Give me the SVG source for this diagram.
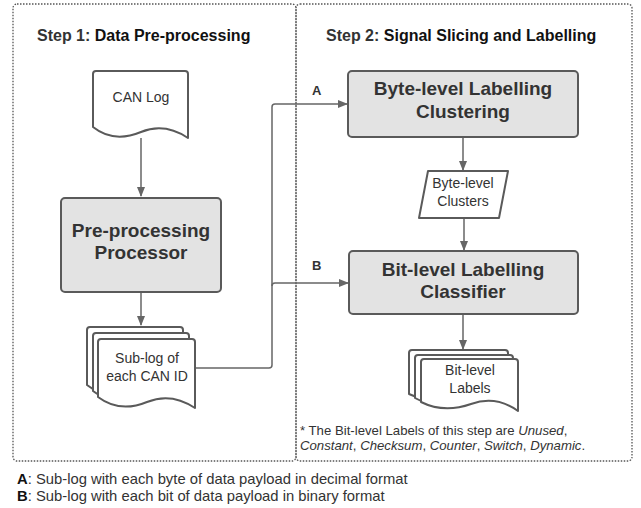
<svg xmlns="http://www.w3.org/2000/svg" width="641" height="508" viewBox="0 0 641 508">
<style>
.frame{fill:none;stroke:#555;stroke-width:1.3;stroke-dasharray:1.5 1.5}
.proc{fill:#e3e3e3;stroke:#5a5a5a;stroke-width:2}
.doc{fill:#fff;stroke:#5a5a5a;stroke-width:2;stroke-linejoin:round}
.ln{fill:none;stroke:#666;stroke-width:1.5}
.t{font-family:"Liberation Sans",Arial,sans-serif;fill:#333}
.big{font-size:19px;font-weight:bold;text-anchor:middle}
.sm{font-size:14px;text-anchor:middle}
.title{font-size:16px;font-weight:bold}
</style>
<defs>
<marker id="ah" markerWidth="10" markerHeight="8" refX="9" refY="4" orient="auto" markerUnits="userSpaceOnUse">
<path d="M0,0 L10,4 L0,8 Z" fill="#666"/>
</marker>
</defs>
<g id="step1-frame"><rect class="frame" x="13" y="4" width="283" height="457" rx="4"/></g>
<g id="step2-frame"><rect class="frame" x="296" y="4" width="336" height="457" rx="4"/></g>
<text class="t title" x="37" y="41" font-size="15.6">Step 1: <tspan fill="#111">Data Pre-processing</tspan></text>
<text class="t title" x="326" y="41" font-size="16.3">Step 2: <tspan fill="#111">Signal Slicing and Labelling</tspan></text>

<g id="connectors">
<path class="ln" d="M141,138 V196" marker-end="url(#ah)"/>
<path class="ln" d="M141,292 V325" marker-end="url(#ah)"/>
<path class="ln" d="M195,368 H269 Q272,368 272,365 V107 Q272,104 275,104 H347" marker-end="url(#ah)"/>
<path class="ln" d="M272,286 Q272,283 275,283 H348" marker-end="url(#ah)"/>
<path class="ln" d="M463,137 V170" marker-end="url(#ah)"/>
<path class="ln" d="M464,218 V250" marker-end="url(#ah)"/>
<path class="ln" d="M463,314 V349" marker-end="url(#ah)"/>
<text class="t" x="312" y="95" font-size="13" font-weight="bold" fill="#222">A</text>
<text class="t" x="312" y="270" font-size="13" font-weight="bold" fill="#222">B</text>
</g>

<g id="can-log">
<path class="doc" d="M93,127 V74 Q93,71 96,71 H185 Q188,71 188,74 V138 C173,128 158,125 141,132 C124,139 108,139 93,127 Z"/>
<text class="t sm" x="141" y="102">CAN Log</text>
</g>

<g id="pre-processing">
<rect class="proc" x="61" y="198" width="160" height="94" rx="4"/>
<text class="t big" x="141" y="237">Pre-processing</text>
<text class="t big" x="141" y="259">Processor</text>
</g>

<g id="sub-log">
<path class="doc" d="M87,385 V330 Q87,327 90,327 H180 Q183,327 183,330 V395 C168,386 152,383 135,390 C118,397 102,397 87,385 Z"/>
<path class="doc" d="M93,391 V336 Q93,333 96,333 H186 Q189,333 189,336 V401 C174,392 158,389 141,396 C124,403 108,403 93,391 Z"/>
<path class="doc" d="M98,397 V342 Q98,339 101,339 H192 Q195,339 195,342 V408 C180,398 164,395 147,402 C130,409 114,409 98,397 Z"/>
<text class="t sm" x="147" y="363">Sub-log of</text>
<text class="t sm" x="147" y="381">each CAN ID</text>
</g>

<g id="byte-level-clustering">
<rect class="proc" x="348" y="71" width="230" height="66" rx="4"/>
<text class="t big" x="463" y="95">Byte-level Labelling</text>
<text class="t big" x="463" y="118">Clustering</text>
</g>

<g id="byte-level-clusters">
<path class="doc" d="M428,171 H508 L499,218 H419 Z"/>
<text class="t sm" x="463" y="188">Byte-level</text>
<text class="t sm" x="463" y="206">Clusters</text>
</g>

<g id="bit-level-classifier">
<rect class="proc" x="349" y="251" width="229" height="63" rx="4"/>
<text class="t big" x="463" y="276">Bit-level Labelling</text>
<text class="t big" x="463" y="298">Classifier</text>
</g>

<g id="bit-level-labels">
<path class="doc" d="M409,394 V353 Q409,350 412,350 H505 Q508,350 508,353 V400 C494,392 478,390 461,396 C444,402 426,402 409,394 Z"/>
<path class="doc" d="M415,398 V358 Q415,355 418,355 H510 Q513,355 513,358 V405 C499,397 483,395 466,401 C449,407 431,407 415,398 Z"/>
<path class="doc" d="M421,402 V362 Q421,359 424,359 H515 Q518,359 518,362 V411 C504,401 488,398 471,404 C454,410 437,410 421,402 Z"/>
<text class="t sm" x="470" y="375">Bit-level</text>
<text class="t sm" x="470" y="393">Labels</text>
</g>

<g id="footnote">
<text class="t" x="300" y="435" font-size="13.2">* The Bit-level Labels of this step are <tspan font-style="italic">Unused</tspan>,</text>
<text class="t" x="300" y="450" font-size="13.2"><tspan font-style="italic">Constant</tspan>, <tspan font-style="italic">Checksum</tspan>, <tspan font-style="italic">Counter</tspan>, <tspan font-style="italic">Switch</tspan>, <tspan font-style="italic">Dynamic</tspan>.</text>
</g>

<g id="legend">
<text class="t" x="17" y="484" font-size="14.8"><tspan font-weight="bold" fill="#111">A</tspan>: Sub-log with each byte of data payload in decimal format</text>
<text class="t" x="17" y="501" font-size="14.8"><tspan font-weight="bold" fill="#111">B</tspan>: Sub-log with each bit of data payload in binary format</text>
</g>
</svg>
